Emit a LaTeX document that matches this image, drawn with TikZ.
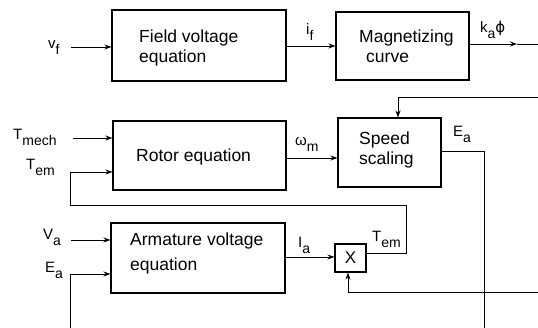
\documentclass[tikz,border=0pt]{standalone}
\usepackage{fontspec}
\setmainfont{Liberation Sans}
\newfontfamily\dvsans{DejaVu Sans}
\usetikzlibrary{arrows.meta}
\newcommand{\lsub}[1]{\raisebox{-6pt}{\fontsize{14}{14}\selectfont #1}}
\begin{document}
\begin{tikzpicture}[x=1pt,y=-1pt,
  box/.style={draw,line width=1.1pt,inner sep=0pt},
  btxt/.style={anchor=base west,inner sep=0pt,font=\fontsize{17.5}{20}\selectfont},
  lbl/.style={anchor=base west,inner sep=0pt,font=\fontsize{15}{16}\selectfont},
  arr/.style={-{Stealth[length=7pt,width=5pt]}},
  wire/.style={line width=0.9pt}]
\useasboundingbox (0,0) rectangle (538,328);

% blocks
\node[box,minimum width=174pt,minimum height=71pt] (fve) at (199,45.5) {};
\node[box,minimum width=133pt,minimum height=68pt] (mag) at (402.5,46) {};
\node[box,minimum width=173pt,minimum height=69pt] (rot) at (199.5,155.5) {};
\node[box,minimum width=103pt,minimum height=69pt] (spd) at (389.5,152.5) {};
\node[box,minimum width=174pt,minimum height=70pt] (arm) at (198,258) {};
\node[box,minimum width=31pt,minimum height=28pt,font=\fontsize{17}{18}\selectfont] (mul) at (350.5,258) {X};

% block texts
\node[btxt] (fveA) at (139,43) {Field voltage};
\node[btxt] (fveB) at (139,63) {equation};
\node[btxt] (magA) at (359,43) {Magnetizing};
\node[btxt] (magB) at (366,63) {curve};
\node[btxt] (rotA) at (136,162) {Rotor equation};
\node[btxt] (spdA) at (359,145) {Speed};
\node[btxt] (spdB) at (359,165) {scaling};
\node[btxt] (armA) at (130,246) {Armature voltage};
\node[btxt] (armB) at (130,271) {equation};

% signal labels
\node[lbl] (lvf) at (48,49) {v\lsub{f}};
\node[lbl] (lif) at (306,35) {i\lsub{f}};
\node[lbl] (lka) at (480,33) {k\lsub{a}{\dvsans ϕ}};
\node[lbl] (ltm) at (13,140) {T\lsub{mech}};
\node[lbl] (lte) at (26,170) {T\lsub{em}};
\node[lbl] (lwm) at (295,146) {ω\lsub{m}};
\node[lbl] (lea) at (453,137) {E\lsub{a}};
\node[lbl] (lva) at (43,240) {V\lsub{a}};
\node[lbl] (leb) at (45,273) {E\lsub{a}};
\node[lbl] (lia) at (298,248) {I\lsub{a}};
\node[lbl] (ltr) at (372,242) {T\lsub{em}};

% coordinates
\coordinate (vfS) at (71,47);
\coordinate (kM) at (517,44);
\coordinate (kE) at (538,44);
\coordinate (fbR) at (538,97);
\coordinate (fbT) at (398,97);
\coordinate (tmS) at (73,138);
\coordinate (t1) at (406,253);
\coordinate (t2) at (406,205);
\coordinate (t3) at (70,205);
\coordinate (t4) at (70,172);
\coordinate (e1) at (484,151);
\coordinate (e2) at (484,328);
\coordinate (vaS) at (71,240);
\coordinate (e3) at (70,328);
\coordinate (e4) at (70,274);
\coordinate (b1) at (538,292);
\coordinate (b2) at (348,292);

% connectors
\draw[wire,arr] (vfS) -- (vfS -| fve.west);
\draw[wire,arr] (fve.east |- 0,46) -- (mag.west |- 0,46);
\draw[wire,arr] (mag.east |- kE) -- (kM);
\draw[wire] (kM) -- (kE);
\draw[wire,arr] (fbR) -- (fbT) -- (fbT |- spd.north);
\draw[wire,arr] (tmS) -- (tmS -| rot.west);
\draw[wire,arr] (mul.east |- t1) -- (t1) -- (t2) -- (t3) -- (t4) -- (t4 -| rot.west);
\draw[wire,arr] (rot.east |- 0,158) -- (spd.west |- 0,158);
\draw[wire] (spd.east |- e1) -- (e1) -- (e2);
\draw[wire,arr] (vaS) -- (vaS -| arm.west);
\draw[wire,arr] (e3) -- (e4) -- (e4 -| arm.west);
\draw[wire,arr] (arm.east |- 0,257) -- (mul.west |- 0,257);
\draw[wire,arr] (b1) -- (b2) -- (b2 |- mul.south);
\end{tikzpicture}
\end{document}
